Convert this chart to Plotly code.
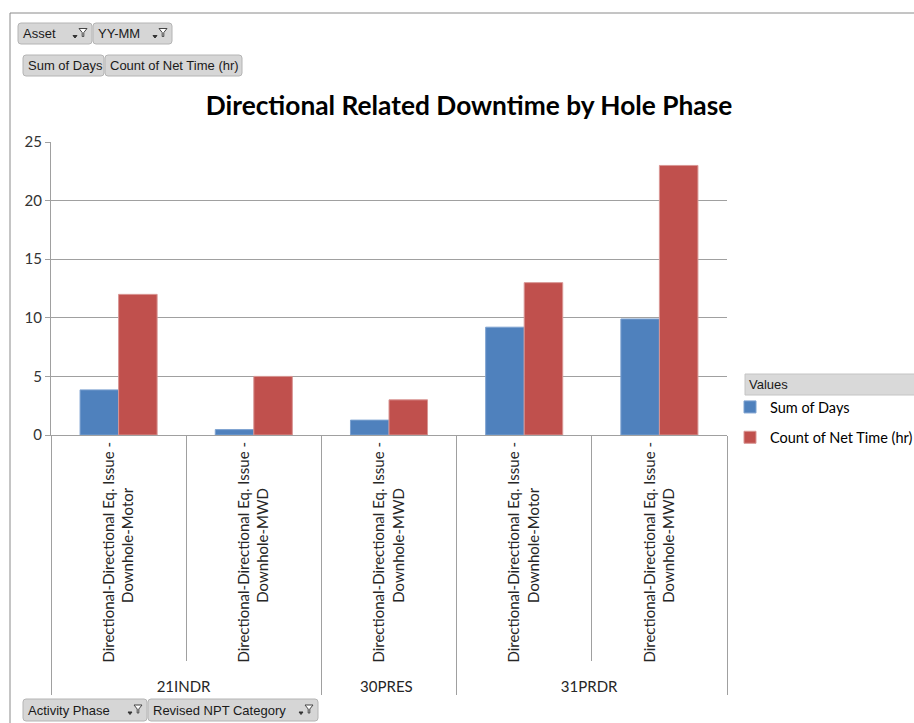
import plotly.graph_objects as go

# ---- data ----
groups = ["21INDR", "21INDR", "30PRES", "31PRDR", "31PRDR"]
NB = "\u00a0"
categories = [
    "Directional-Directional Eq. Issue -<br>Downhole-Motor" + NB * 12,
    "Directional-Directional Eq. Issue -<br>Downhole-MWD" + NB * 12,
    "Directional-Directional Eq. Issue -<br>Downhole-MWD" + NB * 12,
    "Directional-Directional Eq. Issue -<br>Downhole-Motor" + NB * 12,
    "Directional-Directional Eq. Issue -<br>Downhole-MWD" + NB * 12,
]
sum_of_days = [3.85, 0.46, 1.27, 9.2, 9.9]
count_net_time = [12, 5, 3, 13, 23]
y_ticks = [0, 5, 10, 15, 20, 25]

W, H = 914, 723
L, R, T, B = 51, 727, 142, 435  # plot area in pixels


def X(px):
    return (px - L) / (R - L)


def Y(py):
    return (B - py) / (B - T)


FONT = "Lato"
BTN_FONT = "Liberation Sans"
GRAY = "#a0a0a0"

fig = go.Figure()
fig.add_trace(go.Bar(
    x=[groups, categories], y=sum_of_days, name="Sum of Days",
    marker=dict(color="#4F81BD", line=dict(color="#7da2d0", width=1)),
    legendgroup="a",
))
fig.add_trace(go.Bar(
    x=[groups, categories], y=count_net_time, name="Count of Net Time (hr)",
    marker=dict(color="#C0504D", line=dict(color="#d99694", width=1)),
    legendgroup="b",
))

shapes = []
annotations = []

# chart frame (top and left edges)
shapes.append(dict(type="line", xref="paper", yref="paper",
                   x0=X(10), x1=X(914), y0=Y(13), y1=Y(13),
                   line=dict(color="#8a8a8a", width=1)))
shapes.append(dict(type="line", xref="paper", yref="paper",
                   x0=X(10), x1=X(10), y0=Y(13), y1=Y(723),
                   line=dict(color="#8a8a8a", width=1)))


def button(x0, y0, x1, y1, text, icon=False, fsize=13):
    r = 3
    path = (f"M{X(x0 + r)},{Y(y0)} L{X(x1 - r)},{Y(y0)} "
            f"Q{X(x1)},{Y(y0)} {X(x1)},{Y(y0 + r)} L{X(x1)},{Y(y1 - r)} "
            f"Q{X(x1)},{Y(y1)} {X(x1 - r)},{Y(y1)} L{X(x0 + r)},{Y(y1)} "
            f"Q{X(x0)},{Y(y1)} {X(x0)},{Y(y1 - r)} L{X(x0)},{Y(y0 + r)} "
            f"Q{X(x0)},{Y(y0)} {X(x0 + r)},{Y(y0)} Z")
    shapes.append(dict(type="path", xref="paper", yref="paper", path=path,
                       fillcolor="#d6d6d6", line=dict(color="#b4b4b4", width=1)))
    annotations.append(dict(xref="paper", yref="paper", x=X(x0 + 3),
                            y=Y((y0 + y1) / 2), text=text, showarrow=False,
                            xanchor="left", yanchor="middle",
                            font=dict(family=BTN_FONT, size=fsize, color="#1a1a1a")))
    if icon:
        # small dropdown arrow
        ax, ay = x1 - 17, (y0 + y1) / 2 + 3
        shapes.append(dict(type="path", xref="paper", yref="paper",
                           path=f"M{X(ax-2)},{Y(ay-1)} L{X(ax+2)},{Y(ay-1)} L{X(ax)},{Y(ay+1.5)} Z",
                           fillcolor="#333", line=dict(color="#333", width=1)))
        # funnel
        fx, fy = x1 - 9, (y0 + y1) / 2 - 5
        shapes.append(dict(type="path", xref="paper", yref="paper",
                           path=(f"M{X(fx-4)},{Y(fy)} L{X(fx+4)},{Y(fy)} L{X(fx+0.8)},{Y(fy+4)} "
                                 f"L{X(fx+0.8)},{Y(fy+8)} L{X(fx-0.8)},{Y(fy+8)} L{X(fx-0.8)},{Y(fy+4)} Z"),
                           fillcolor="#ffffff", line=dict(color="#444", width=1)))


button(18, 23, 92, 44, "Asset", icon=True)
button(93, 23, 172, 44, "YY-MM", icon=True)
button(23, 55, 104, 76, "Sum of Days")
button(105, 55, 242, 76, "Count of Net Time (hr)")
button(23, 699, 147, 721, "Activity Phase", icon=True)
button(148, 699, 318, 721, "Revised NPT Category", icon=True)

# legend header "Values"
shapes.append(dict(type="rect", xref="paper", yref="paper",
                   x0=X(745), x1=X(916), y0=Y(374), y1=Y(395),
                   fillcolor="#d9d9d9", line=dict(color="#c4c4c4", width=1)))
annotations.append(dict(xref="paper", yref="paper", x=X(747), y=Y(384.5),
                        text="Values", showarrow=False, xanchor="left",
                        yanchor="middle",
                        font=dict(family=BTN_FONT, size=13, color="#1a1a1a")))

fig.update_layout(
    width=W, height=H,
    margin=dict(l=L, r=W - R, t=T, b=H - B, pad=0, autoexpand=False),
    paper_bgcolor="white", plot_bgcolor="white",
    barmode="group", bargap=0.43, bargroupgap=0,
    title=dict(text="<b>Directional Related Downtime by Hole Phase</b>",
               xref="paper", x=X(469), xanchor="center",
               yref="container", y=1 - 106 / H, yanchor="middle",
               font=dict(family=FONT, size=26.3, color="#000000")),
    font=dict(family=FONT, size=14, color="#262626"),
    showlegend=True,
    legend=dict(x=X(730), xanchor="left", y=Y(391), yanchor="top",
                font=dict(family=FONT, size=14.5, color="#000000"),
                tracegroupgap=8.5, bgcolor="rgba(0,0,0,0)"),
    shapes=shapes,
    annotations=annotations,
)

fig.update_yaxes(range=[0, 25], tickvals=y_ticks, showgrid=True, gridcolor=GRAY,
                 gridwidth=1, showline=True, linecolor=GRAY, ticks="outside",
                 ticklen=5, tickcolor=GRAY, zeroline=False,
                 tickfont=dict(family=FONT, size=15, color="#333333"))
fig.update_xaxes(type="multicategory", tickangle=-90, showline=True,
                 linecolor=GRAY, ticks="outside", tickson="boundaries",
                 ticklen=225, tickcolor=GRAY, showdividers=True,
                 dividercolor=GRAY, dividerwidth=1,
                 tickfont=dict(family=FONT, size=15, color="#262626"))

fig.write_html("out.html")
